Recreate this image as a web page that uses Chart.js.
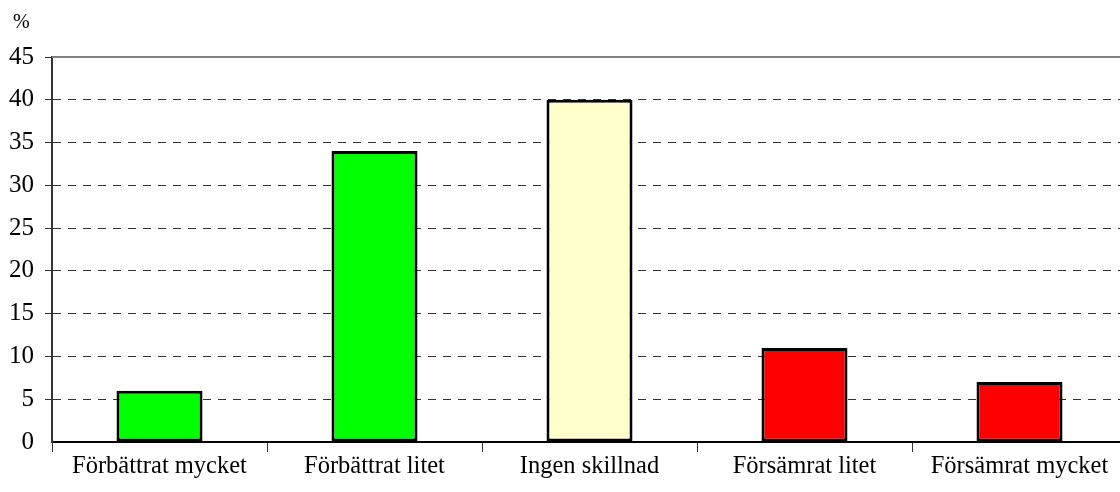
<!DOCTYPE html>
<html>
<head>
<meta charset="utf-8">
<script src="https://cdn.jsdelivr.net/npm/chart.js@4.4.1/dist/chart.umd.min.js"></script>
<style>
html,body{margin:0;padding:0;background:#fff;overflow:hidden;width:1120px;height:492px;}
#wrap{position:relative;width:1130px;height:492px;}
</style>
</head>
<body>
<div id="wrap"><canvas id="c" width="1130" height="492"></canvas></div>
<script>
const categories = ["Förbättrat mycket", "Förbättrat litet", "Ingen skillnad", "Försämrat litet", "Försämrat mycket"];
const values = [6, 34, 40, 11, 7];
const barColors = ["#00ff00", "#00ff00", "#ffffcc", "#ff0000", "#ff0000"];
const yTicks = [0, 5, 10, 15, 20, 25, 30, 35, 40, 45];
const unitLabel = "%";

const FONT = "'Liberation Serif', 'Times New Roman', serif";

const extras = {
  id: 'extras',
  afterDraw(chart) {
    const ctx = chart.ctx;
    const a = chart.chartArea;
    ctx.save();
    ctx.strokeStyle = '#808080';
    ctx.lineWidth = 2;
    ctx.beginPath();
    ctx.moveTo(a.left, a.top);
    ctx.lineTo(a.right, a.top);
    ctx.stroke();
    ctx.fillStyle = '#000';
    ctx.font = "20px " + FONT;
    ctx.textAlign = 'left';
    ctx.textBaseline = 'middle';
    ctx.fillText(unitLabel, 13, 23);
    ctx.restore();
  }
};

new Chart(document.getElementById('c'), {
  type: 'bar',
  data: {
    labels: categories,
    datasets: [{
      data: values,
      backgroundColor: barColors,
      borderColor: '#000',
      borderWidth: 3,
      borderSkipped: false,
      barPercentage: 0.4,
      categoryPercentage: 1.0
    }]
  },
  options: {
    responsive: false,
    animation: false,
    events: [],
    layout: { padding: { top: 57, right: 3, left: 0, bottom: 0 } },
    plugins: { legend: { display: false }, tooltip: { enabled: false } },
    scales: {
      x: {
        afterFit(scale) { scale.height = 50; },
        grid: {
          display: true,
          offset: true,
          drawOnChartArea: false,
          drawTicks: true,
          tickLength: 10,
          color: '#333',
          lineWidth: 1
        },
        border: { display: true, color: '#000', width: 2 },
        ticks: {
          color: '#000',
          font: { family: FONT, size: 24.5 },
          padding: 0,
          maxRotation: 0,
          autoSkip: false
        }
      },
      y: {
        min: 0,
        max: 45,
        afterFit(scale) { scale.width = 52; },
        afterBuildTicks(scale) { scale.ticks = yTicks.map(v => ({ value: v })); },
        grid: {
          display: true,
          drawOnChartArea: true,
          drawTicks: true,
          tickLength: 7,
          color: (c) => (c.tick && c.tick.value === 0) ? 'rgba(0,0,0,0)' : '#333',
          lineWidth: 1
        },
        border: { display: true, color: '#333', width: 2, dash: [8, 7] },
        ticks: {
          color: '#000',
          font: { family: FONT, size: 25 },
          padding: 11,
          stepSize: 5
        }
      }
    }
  },
  plugins: [extras]
});
</script>
</body>
</html>
